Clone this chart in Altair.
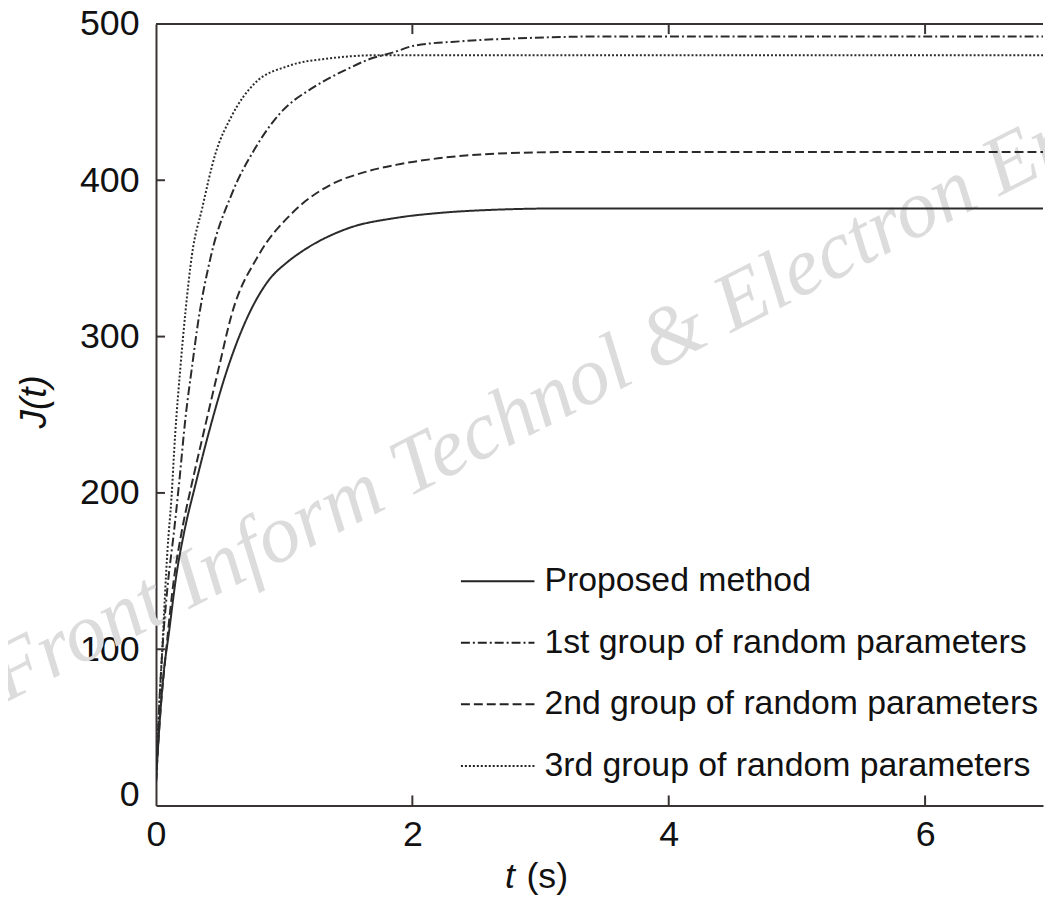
import altair as alt
import pandas as pd

series_names = [
    "Proposed method",
    "1st group of random parameters",
    "2nd group of random parameters",
    "3rd group of random parameters",
]

proposed_t = [0, 0.03, 0.06, 0.10, 0.16, 0.22, 0.31, 0.41, 0.56, 0.70, 0.87, 1.03, 1.13, 1.49, 1.88, 2.2, 2.6, 3.2, 6.92]
proposed_J = [15, 55, 85, 110, 148, 175, 206, 238, 280, 310, 335, 348, 354, 369, 376, 379, 381, 382, 382]

g1_t = [0, 0.02, 0.05, 0.09, 0.14, 0.18, 0.23, 0.28, 0.33, 0.43, 0.59, 0.77, 0.97, 1.24, 1.49, 1.65, 1.86, 2.01, 2.40, 2.91, 3.5, 6.92]
g1_J = [15, 55, 100, 140, 175, 206, 248, 280, 310, 352, 391, 420, 443, 460, 471, 477, 482, 486, 489, 491, 492, 492]

g2_t = [0, 0.03, 0.08, 0.14, 0.20, 0.28, 0.37, 0.49, 0.59, 0.80, 1.05, 1.36, 1.62, 1.88, 2.2, 2.65, 3.2, 6.92]
g2_J = [15, 55, 100, 145, 175, 206, 238, 280, 314, 352, 378, 397, 405, 410, 414, 417, 418, 418]

g3_t = [0, 0.02, 0.05, 0.09, 0.12, 0.15, 0.19, 0.23, 0.28, 0.36, 0.46, 0.59, 0.77, 1.03, 1.36, 1.75, 2.2, 6.92]
g3_J = [15, 54, 102, 164, 196, 238, 280, 316, 352, 382, 416, 441, 462, 473, 478, 480, 480, 480]

x_ticks = [0, 2, 4, 6]
y_ticks = [0, 100, 200, 300, 400, 500]
x_inner_ticks = [2, 4, 6]
y_inner_ticks = [100, 200, 300, 400]

dash_styles = [[1, 0], [9, 3, 2, 3], [9, 4], [2, 2]]

rows = []
for name, ts, js in zip(series_names, [proposed_t, g1_t, g2_t, g3_t], [proposed_J, g1_J, g2_J, g3_J]):
    for t, j in zip(ts, js):
        rows.append({"series": name, "t": t, "J": j})
df = pd.DataFrame(rows)

X_MAX = 6.92
x_scale = alt.Scale(domain=[0, X_MAX], nice=False, zero=False)
y_scale = alt.Scale(domain=[0, 500], nice=False)
FONT = "Liberation Sans"
AXIS_COLOR = "#3a3333"
TEXT_COLOR = "#111111"

lines = alt.Chart(df).mark_line(strokeWidth=2, color="#2b2b2b", interpolate="monotone", clip=True).encode(
    x=alt.X("t:Q", scale=x_scale, axis=alt.Axis(
        values=x_ticks, format="d", ticks=False, grid=False, title=None, labelFontSize=36, labelFont=FONT,
        labelColor=TEXT_COLOR, labelPadding=12, labelFlush=False, domainColor=AXIS_COLOR, domainWidth=2)),
    y=alt.Y("J:Q", scale=y_scale, axis=alt.Axis(
        values=y_ticks, format="d", ticks=False, grid=False, title="J(t)", titleFontStyle="italic",
        titleFontWeight="normal", titleFontSize=37, titleFont=FONT, titleColor=TEXT_COLOR,
        titlePadding=26, titleY=380, labelFontSize=36, labelFont=FONT, labelColor=TEXT_COLOR,
        labelBaseline={"condition": {"test": "datum.value == 0", "value": "alphabetic"}, "value": "middle"},
        labelPadding=17, labelFlush=False, domainColor=AXIS_COLOR, domainWidth=2)),
    strokeDash=alt.StrokeDash("series:N", scale=alt.Scale(domain=series_names, range=dash_styles),
        legend=alt.Legend(title=None, orient="none", legendX=306, legendY=523, symbolType="stroke",
                          symbolSize=5476, symbolStrokeWidth=2, symbolStrokeColor="#222222",
                          labelFontSize=34, labelFont=FONT, labelColor=TEXT_COLOR, labelOffset=9,
                          rowPadding=7, padding=0, labelLimit=700)),
)

tick_df_x = pd.DataFrame({"t": x_inner_ticks})
tick_df_y = pd.DataFrame({"J": y_inner_ticks})

bottom_ticks = alt.Chart(tick_df_x).mark_rule(color=AXIS_COLOR, strokeWidth=2).encode(
    x=alt.X("t:Q", scale=x_scale), y=alt.datum(0), y2=alt.datum(6.5))
top_ticks = alt.Chart(tick_df_x).mark_rule(color=AXIS_COLOR, strokeWidth=2).encode(
    x=alt.X("t:Q", scale=x_scale), y=alt.datum(500), y2=alt.datum(493.5))
left_ticks = alt.Chart(tick_df_y).mark_rule(color=AXIS_COLOR, strokeWidth=2).encode(
    y=alt.Y("J:Q", scale=y_scale), x=alt.datum(0), x2=alt.datum(0.07))
top_border = alt.Chart(pd.DataFrame({"J": [500]})).mark_rule(color=AXIS_COLOR, strokeWidth=2).encode(
    y=alt.Y("J:Q", scale=y_scale), x=alt.datum(0), x2=alt.datum(X_MAX))

watermark = alt.Chart(pd.DataFrame({"w": [1]})).mark_text(
    text="Front Inform Technol & Electron Eng", font="Liberation Serif", fontStyle="italic",
    fontSize=83, color="#dcdcdc", angle=333, align="left", baseline="alphabetic").encode(
    x=alt.datum(-1.17), y=alt.datum(66))

xt1 = alt.Chart(pd.DataFrame({"w": [1]})).mark_text(
    text="t", font=FONT, fontStyle="italic", fontSize=36, color=TEXT_COLOR, align="right",
    baseline="alphabetic").encode(x=alt.datum(2.80), y=alt.datum(-52.7))
xt2 = alt.Chart(pd.DataFrame({"w": [1]})).mark_text(
    text="(s)", font=FONT, fontSize=36, color=TEXT_COLOR, align="left",
    baseline="alphabetic").encode(x=alt.datum(2.89), y=alt.datum(-52.7))

chart = alt.layer(watermark, lines, bottom_ticks, top_ticks, left_ticks, top_border, xt1, xt2).properties(
    width=893, height=787,
    padding={"left": 149, "top": 13, "right": 2, "bottom": 90},
    autosize=alt.AutoSizeParams(type="none"),
    background="white",
).configure_view(strokeWidth=0)

chart.save("out.html", embed_options={"renderer": "svg", "actions": False})
